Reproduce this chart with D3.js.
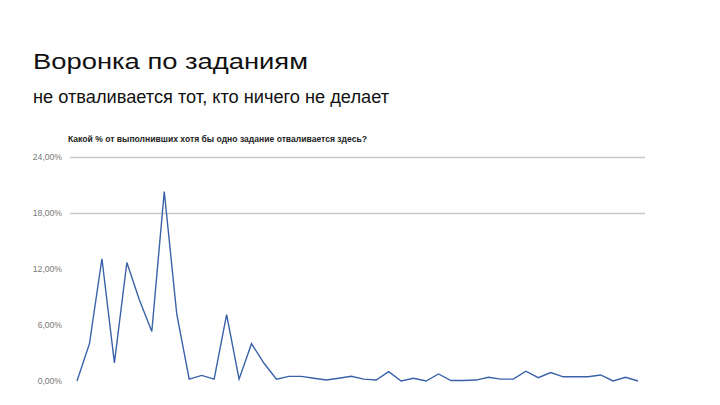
<!DOCTYPE html>
<html>
<head>
<meta charset="utf-8">
<script src="https://cdnjs.cloudflare.com/ajax/libs/d3/7.8.5/d3.min.js"></script>
<style>
  body { margin: 0; background: #fff; }
  svg { display: block; font-family: "Liberation Sans", Arial, sans-serif; }
</style>
</head>
<body>
<div id="container"></div>
<script>
// share of users dropping off at each task, %
var dropRates = [0, 4.0, 13.1, 1.95, 12.7, 8.7, 5.3, 20.3, 7.2, 0.2,
                 0.6, 0.2, 7.1, 0.2, 4.0, 1.9, 0.2, 0.5, 0.5, 0.3,
                 0.1, 0.3, 0.5, 0.2, 0.1, 1.0, 0, 0.3, 0, 0.75,
                 0.05, 0.05, 0.1, 0.4, 0.2, 0.2, 1.05, 0.35, 0.9, 0.45,
                 0.45, 0.45, 0.65, 0, 0.4, 0];
var yTicks = [0, 6, 12, 18, 24];
var gridTicks = [18, 24];   // only the upper lines show in the picture

var title = 'Воронка по заданиям',
    subtitle = 'не отваливается тот, кто ничего не делает',
    chartTitle = 'Какой % от выполнивших хотя бы одно задание отваливается здесь?';

var svg = d3.select('#container').append('svg')
    .attr('width', 720)
    .attr('height', 405);

// slide text looks stretched sideways, so pin the widths
svg.append('text')
    .attr('x', 33).attr('y', 69)
    .attr('textLength', 275)
    .attr('lengthAdjust', 'spacingAndGlyphs')
    .style('font-size', '22px')
    .style('fill', '#111')
    .text(title);

svg.append('text')
    .attr('x', 33).attr('y', 103)
    .attr('textLength', 356)
    .attr('lengthAdjust', 'spacingAndGlyphs')
    .style('font-size', '17.5px')
    .style('fill', '#111')
    .text(subtitle);

svg.append('text')
    .attr('x', 68).attr('y', 142)
    .attr('textLength', 299)
    .attr('lengthAdjust', 'spacingAndGlyphs')
    .style('font-size', '8.7px')
    .style('font-weight', 'bold')
    .style('fill', '#222')
    .text(chartTitle);

var x = d3.scaleLinear()
    .domain([0, dropRates.length - 1])
    .range([77, 638]);

var y = d3.scaleLinear()
    .domain([0, 24])
    .range([381, 157]);

var fmt = function(d) { return d3.format('.2f')(d).replace('.', ',') + '%'; };

// gridlines
svg.append('g')
    .attr('transform', 'translate(645,0)')
    .call(d3.axisLeft(y).tickValues(gridTicks).tickSize(575).tickFormat(''))
    .call(function(g) {
      g.select('.domain').remove();
      g.selectAll('line').attr('stroke', '#c8c8c8').attr('stroke-width', 1.4);
    });

// y labels
svg.append('g')
    .attr('transform', 'translate(62,0)')
    .call(d3.axisLeft(y).tickValues(yTicks).tickSize(0).tickPadding(0).tickFormat(fmt))
    .call(function(g) {
      g.select('.domain').remove();
      g.selectAll('text')
        .style('font-family', '"Liberation Sans", Arial, sans-serif')
        .style('font-size', '8.6px')
        .style('fill', '#777');
    });

var line = d3.line()
    .x(function(d, i) { return x(i); })
    .y(function(d) { return y(d); });

svg.append('path')
    .datum(dropRates)
    .attr('d', line)
    .attr('fill', 'none')
    .attr('stroke', '#3a62a8')
    .attr('stroke-width', 1.4)
    .attr('stroke-linejoin', 'miter');
</script>
</body>
</html>
